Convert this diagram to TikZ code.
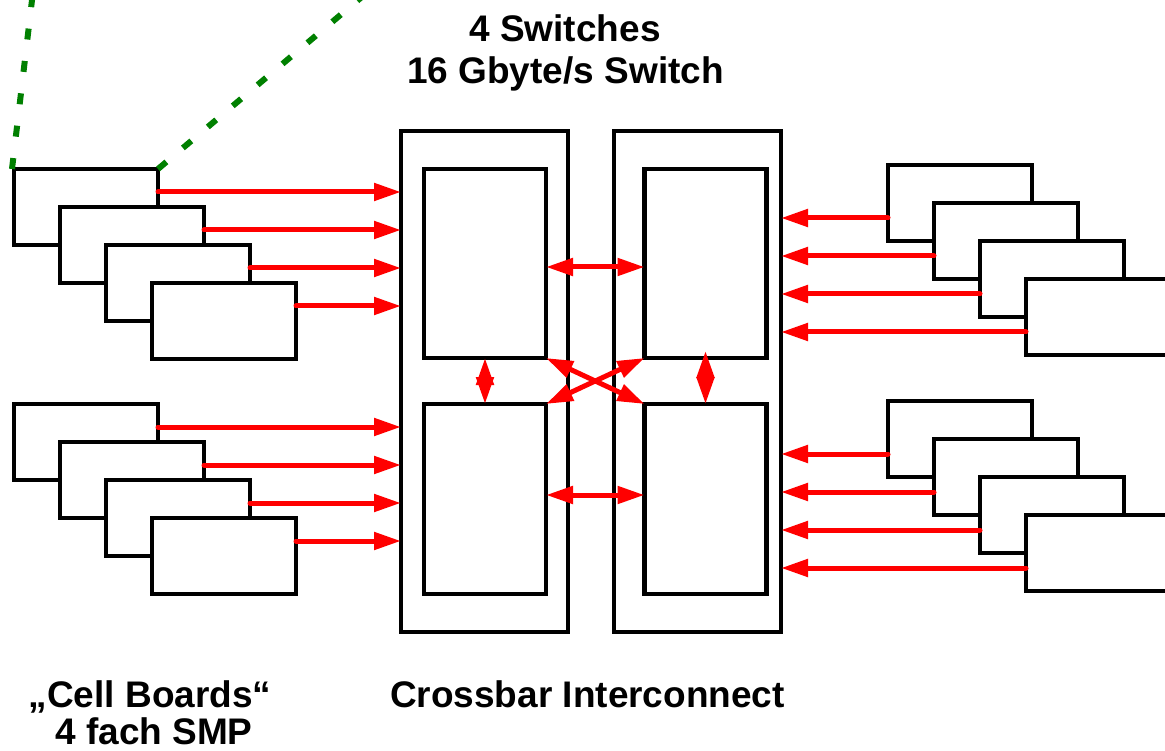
\documentclass[tikz,border=0pt]{standalone}
\usepackage{fontspec}
\setmainfont{Liberation Sans}
\usetikzlibrary{arrows.meta,calc}
\definecolor{dgreen}{RGB}{0,128,0}
\begin{document}
\begin{tikzpicture}[x=1pt,y=-1pt,
  box/.style={draw, line width=4.5pt, fill=white, inner sep=0pt, outer sep=0pt, anchor=north west},
  board/.style={box, minimum width=144pt, minimum height=76pt},
  outerbox/.style={box, minimum width=167pt, minimum height=501pt},
  switchbox/.style={box, minimum width=122pt},
  link/.style={draw=red, line width=5pt, line cap=round, >={Triangle[length=27pt,width=17pt]}},
  gline/.style={draw=dgreen, line width=6pt, dash pattern=on 11pt off 21.6pt},
  lbl/.style={font=\fontsize{37}{44}\selectfont\bfseries, anchor=base, inner sep=0pt}
]
\useasboundingbox (0,0) rectangle (1165,751);
\clip (0,0) rectangle (1165,751);

% crossbar
\node[outerbox] (OL) at (401,131) {};
\node[outerbox] (OR) at (614,131) {};
\node[switchbox, minimum height=189pt] (LT) at (424,169) {};
\node[switchbox, minimum height=189pt] (RT) at (644.5,169) {};
\node[switchbox, minimum height=190pt] (LB) at (424,404) {};
\node[switchbox, minimum height=190pt] (RB) at (644.5,404) {};

% cell boards
\foreach \i in {1,...,4} {
  \node[board] (a\i) at ({14+46*(\i-1)},{169+38*(\i-1)}) {};
}
\foreach \i in {1,...,4} {
  \node[board] (b\i) at ({14+46*(\i-1)},{404+38*(\i-1)}) {};
}
\foreach \i in {1,...,4} {
  \node[board] (c\i) at ({888+46*(\i-1)},{165+38*(\i-1)}) {};
}
\foreach \i in {1,...,4} {
  \node[board] (d\i) at ({888+46*(\i-1)},{401+38*(\i-1)}) {};
}

% board links
\foreach \i in {1,...,4} {
  \coordinate (as\i) at ($(a\i.north east)+(0,23)$);
  \draw[link,->] (as\i) -- (OL.west |- as\i);
  \coordinate (bs\i) at ($(b\i.north east)+(0,23)$);
  \draw[link,->] (bs\i) -- (OL.west |- bs\i);
  \coordinate (cs\i) at ($(c\i.south west)+(0,-23)$);
  \draw[link,->] (cs\i) -- (OR.east |- cs\i);
  \coordinate (ds\i) at ($(d\i.south west)+(0,-23)$);
  \draw[link,->] (ds\i) -- (OR.east |- ds\i);
}

% switch links
\draw[link,<->] ($(LT.east)+(0,3.5)$) -- ($(RT.west)+(0,3.5)$);
\draw[link,<->] ($(LB.east)+(0,-4)$) -- ($(RB.west)+(0,-4)$);
\draw[link,<->] (LT.south) -- (LB.north);
\draw[link,<->, shorten <=-7pt] (RT.south) -- (RB.north);
\draw[link,<->] (LT.south east) -- (RB.north west);
\draw[link,<->] (RT.south west) -- (LB.north east);

% zoom lines
\coordinate (g1) at (33.2,-10);
\coordinate (g2) at (370,-10);
\draw[gline] ([xshift=-2pt]a1.north west) -- (g1);
\draw[gline] (a1.north east) -- (g2);

% labels
\node[lbl] (t1) at (565,42) {4 Switches};
\node[lbl] (t2) at (565.5,84) {16 Gbyte/s Switch};
\node[lbl] (t3) at (587.5,707) {Crossbar Interconnect};
\node[lbl] (t4) at (150,707) {„Cell Boards“};
\node[lbl] (t5) at (154,744) {4 fach SMP};
\end{tikzpicture}
\end{document}
